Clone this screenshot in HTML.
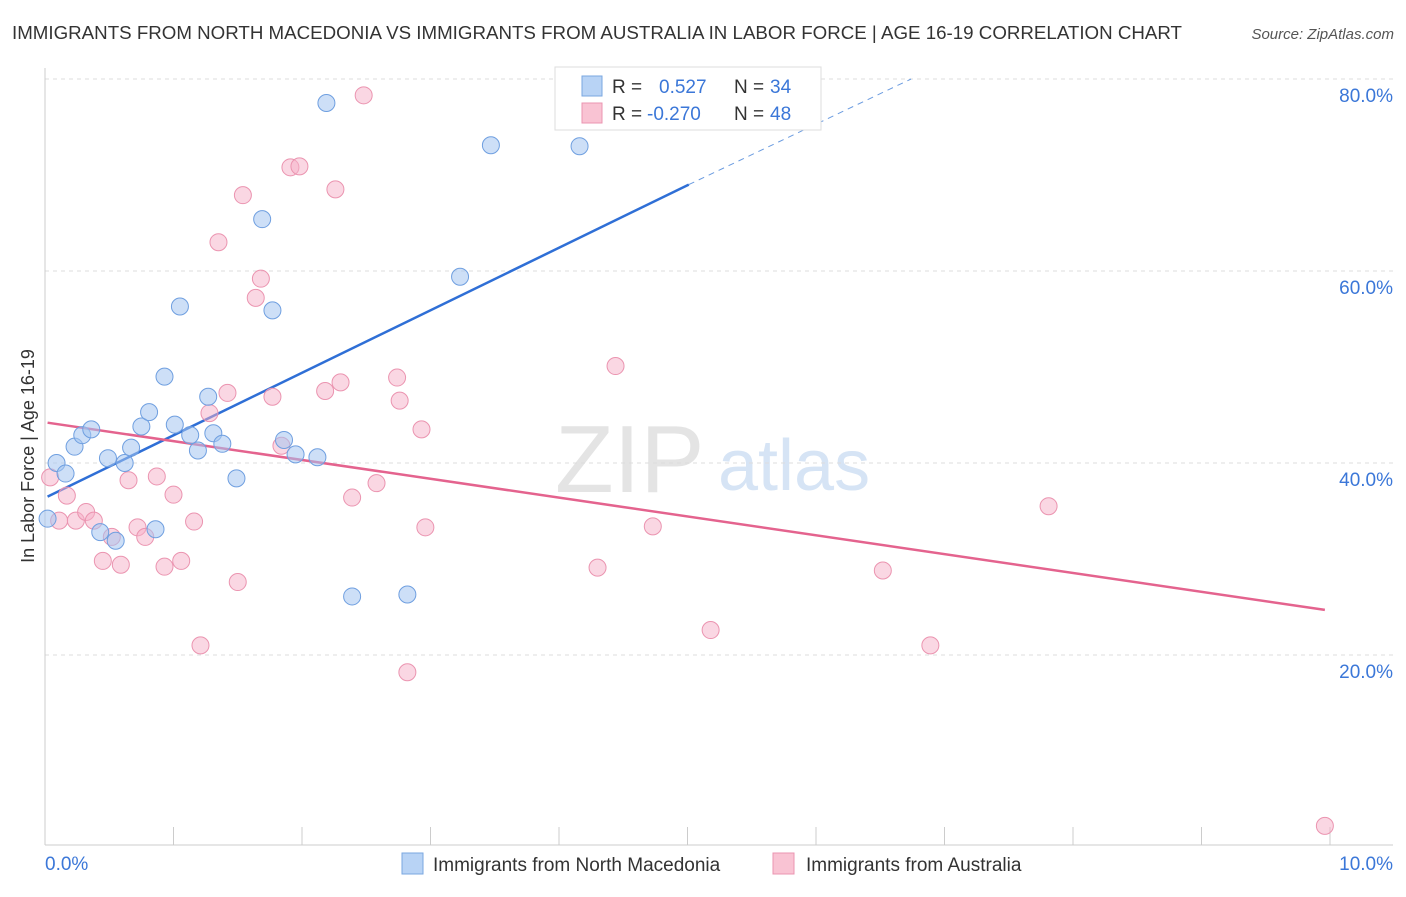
<!DOCTYPE html>
<html><head><meta charset="utf-8"><style>
body{margin:0;background:#fff;font-family:"Liberation Sans",sans-serif;}
svg text{font-family:"Liberation Sans",sans-serif;}
</style></head><body>
<svg id="chart" width="1406" height="892" xmlns="http://www.w3.org/2000/svg">
<text x="12" y="39" font-size="18" fill="#333" textLength="1170" lengthAdjust="spacingAndGlyphs">IMMIGRANTS FROM NORTH MACEDONIA VS IMMIGRANTS FROM AUSTRALIA IN LABOR FORCE | AGE 16-19 CORRELATION CHART</text>
<text x="1394" y="39" font-size="15" fill="#555" font-style="italic" text-anchor="end">Source: ZipAtlas.com</text>
<text x="555" y="492" font-size="96" fill="#e4e4e4" font-family="Liberation Serif">ZIP</text>
<text x="718" y="490" font-size="72" fill="#d6e4f5">atlas</text>
<text transform="translate(34,456) rotate(-90)" font-size="18" fill="#333" text-anchor="middle">In Labor Force | Age 16-19</text>
<g id="grid"></g><g id="axes"></g><g id="trend"></g><g id="points"></g>
<g>
<rect x="555" y="67" width="266" height="63" fill="#fff" stroke="#ddd"/>
<rect x="582" y="76" width="20" height="20" fill="#b8d3f5" stroke="#7aa7e0"/>
<rect x="582" y="103" width="20" height="20" fill="#f9c3d3" stroke="#eb94b0"/>
<text x="612" y="93" font-size="19" fill="#333">R =</text><text x="659" y="93" font-size="19" fill="#3b77d8">0.527</text>
<text x="734" y="93" font-size="19" fill="#333">N =</text><text x="770" y="93" font-size="19" fill="#3b77d8">34</text>
<text x="612" y="120" font-size="19" fill="#333">R =</text><text x="647" y="120" font-size="19" fill="#3b77d8">-0.270</text>
<text x="734" y="120" font-size="19" fill="#333">N =</text><text x="770" y="120" font-size="19" fill="#3b77d8">48</text>
</g>
<g><rect x="402" y="853" width="21" height="21" fill="#b8d3f5" stroke="#7aa7e0"/><text x="433" y="871" font-size="19" fill="#333">Immigrants from North Macedonia</text></g>
<g><rect x="773" y="853" width="21" height="21" fill="#f9c3d3" stroke="#eb94b0"/><text x="806" y="871" font-size="19" fill="#333">Immigrants from Australia</text></g>
</svg>
<script>
const xTicksLabels=["0.0%","10.0%"];
const yTicks=[20,40,60,80];
const blueX=[0.02,0.09,0.16,0.23,0.29,0.36,0.43,0.49,0.55,0.62,0.67,0.75,0.81,0.86,0.93,1.01,1.05,1.13,1.19,1.27,1.31,1.38,1.49,1.69,1.77,1.86,1.95,2.12,2.19,2.39,2.82,3.23,3.47,4.16];
const blueY=[34.2,40.0,38.9,41.7,42.9,43.5,32.8,40.5,31.9,40.0,41.6,43.8,45.3,33.1,49.0,44.0,56.3,42.9,41.3,46.9,43.1,42.0,38.4,65.4,55.9,42.4,40.9,40.6,77.5,26.1,26.3,59.4,73.1,73.0];
const pinkX=[0.04,0.11,0.17,0.24,0.32,0.38,0.45,0.52,0.59,0.65,0.72,0.78,0.87,0.93,1.00,1.06,1.16,1.21,1.28,1.35,1.42,1.50,1.54,1.64,1.68,1.77,1.84,1.91,1.98,2.18,2.26,2.30,2.39,2.48,2.58,2.74,2.76,2.82,2.93,2.96,4.30,4.44,4.73,5.18,6.52,6.89,7.81,9.96];
const pinkY=[38.5,34.0,36.6,34.0,34.9,34.0,29.8,32.3,29.4,38.2,33.3,32.3,38.6,29.2,36.7,29.8,33.9,21.0,45.2,63.0,47.3,27.6,67.9,57.2,59.2,46.9,41.8,70.8,70.9,47.5,68.5,48.4,36.4,78.3,37.9,48.9,46.5,18.2,43.5,33.3,29.1,50.1,33.4,22.6,28.8,21.0,35.5,2.2];
const blueTrend=[0.02,36.5,5.01,69.0,6.74,80.0];
const pinkTrend=[0.02,44.2,9.96,24.7];
const NS="http://www.w3.org/2000/svg";
const sx=v=>45+v*128.5, sy=v=>847-v*9.6;
function mk(t,a,p){const e=document.createElementNS(NS,t);for(const k in a)e.setAttribute(k,a[k]);p.appendChild(e);return e;}
const grid=document.getElementById('grid'),axes=document.getElementById('axes');
yTicks.forEach(t=>{
 const l=mk('line',{x1:45,x2:1393,y1:sy(t),y2:sy(t),stroke:'#ddd','stroke-dasharray':'4,4'},grid);
 
 
 const tx=mk('text',{x:1393,y:sy(t)+23,'font-size':19,fill:'#3b77d8','text-anchor':'end'},axes);tx.textContent=t.toFixed(1)+'%';
 
 
});
mk('line',{x1:45,x2:45,y1:68,y2:845,stroke:'#ccc'},axes);
mk('line',{x1:45,x2:1393,y1:845,y2:845,stroke:'#ccc'},axes);
for(let i=0;i<=10;i++){const t=mk('line',{x1:sx(i),x2:sx(i),y1:827,y2:845,stroke:'#ccc'},axes);}
const xl0=mk('text',{x:45,y:870,'font-size':19,fill:'#3b77d8'},axes);xl0.textContent=xTicksLabels[0];


const xl1=mk('text',{x:1393,y:870,'font-size':19,fill:'#3b77d8','text-anchor':'end'},axes);xl1.textContent=xTicksLabels[1];


const tr=document.getElementById('trend');
const b1=mk('line',{x1:sx(blueTrend[0]),y1:sy(blueTrend[1]),x2:sx(blueTrend[2]),y2:sy(blueTrend[3]),stroke:'#2f6fd6','stroke-width':2.5},tr);


const b2=mk('line',{x1:sx(blueTrend[2]),y1:sy(blueTrend[3]),x2:sx(blueTrend[4]),y2:sy(blueTrend[5]),stroke:'#6a9be0','stroke-width':1,'stroke-dasharray':'6,5'},tr);


const p1=mk('line',{x1:sx(pinkTrend[0]),y1:sy(pinkTrend[1]),x2:sx(pinkTrend[2]),y2:sy(pinkTrend[3]),stroke:'#e4638e','stroke-width':2.5},tr);


const pts=document.getElementById('points');
pinkX.forEach((x,i)=>{const c=mk('circle',{cx:sx(x),cy:sy(pinkY[i]),r:8.5,fill:'rgba(246,176,199,0.5)',stroke:'#eb94b0','stroke-width':1},pts);
 
 });
blueX.forEach((x,i)=>{const c=mk('circle',{cx:sx(x),cy:sy(blueY[i]),r:8.5,fill:'rgba(164,196,240,0.55)',stroke:'#6f9fe0','stroke-width':1},pts);
 
 });
</script>
</body></html>
